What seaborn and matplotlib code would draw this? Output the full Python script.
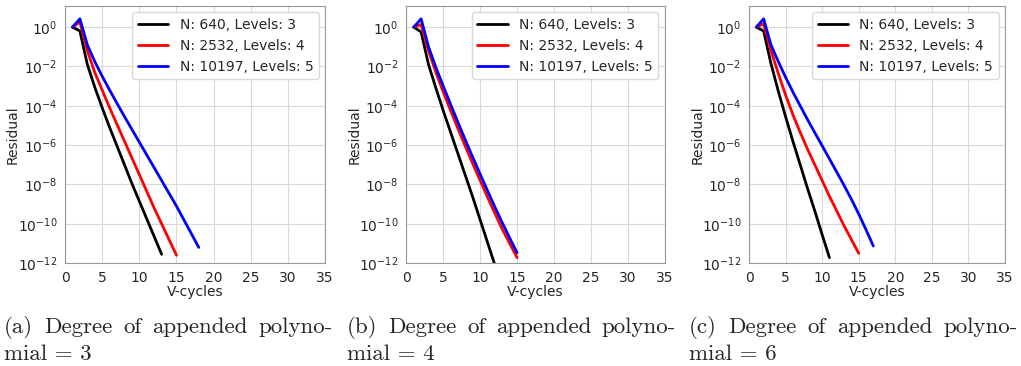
"""Multigrid convergence: residual vs V-cycles for three polynomial degrees."""

import matplotlib
matplotlib.use("Agg")
import matplotlib.pyplot as plt
import numpy as np
import pandas as pd
import seaborn as sns

# residuals, stored as log10 exponents (V-cycle 1, 2, ...)
series_labels = ["N: 640, Levels: 3", "N: 2532, Levels: 4", "N: 10197, Levels: 5"]
series_colors = ["black", "red", "blue"]

deg3_n640 = [0, -0.2, -1.9, -3.05, -4.1, -5.1, -6.05, -7.0, -7.95, -8.85,
             -9.75, -10.65, -11.55]
deg3_n2532 = [0, 0.25, -1.2, -2.3, -3.2, -4.1, -4.95, -5.8, -6.65, -7.5,
              -8.35, -9.2, -10.0, -10.8, -11.6]
deg3_n10197 = [0, 0.42, -0.9, -1.75, -2.5, -3.2, -3.88, -4.55, -5.2, -5.85,
               -6.5, -7.15, -7.8, -8.45, -9.1, -9.8, -10.5, -11.2]

deg4_n640 = [0, -0.25, -1.9, -3.1, -4.25, -5.35, -6.45, -7.55, -8.65, -9.8,
             -10.95, -12.1]
deg4_n2532 = [0, 0.13, -1.2, -2.3, -3.3, -4.25, -5.17, -6.07, -6.95, -7.8,
              -8.65, -9.47, -10.28, -11.0, -11.72]
deg4_n10197 = [0, 0.42, -1.0, -2.05, -3.0, -3.93, -4.85, -5.75, -6.62, -7.48,
               -8.32, -9.15, -9.95, -10.72, -11.47]

deg6_n640 = [0, -0.2, -1.85, -3.25, -4.55, -5.8, -7.0, -8.2, -9.35, -10.55,
             -11.72]
deg6_n2532 = [0, 0.17, -1.2, -2.35, -3.45, -4.45, -5.35, -6.2, -7.0, -7.8,
              -8.6, -9.35, -10.1, -10.8, -11.5]
deg6_n10197 = [0, 0.42, -0.9, -1.75, -2.55, -3.3, -4.0, -4.7, -5.37, -6.03,
               -6.7, -7.37, -8.05, -8.75, -9.5, -10.3, -11.13]

panels = [
    ("(a)", 3, [deg3_n640, deg3_n2532, deg3_n10197]),
    ("(b)", 4, [deg4_n640, deg4_n2532, deg4_n10197]),
    ("(c)", 6, [deg6_n640, deg6_n2532, deg6_n10197]),
]

x_ticks = [0, 5, 10, 15, 20, 25, 30, 35]
y_ticks = [1e0, 1e-2, 1e-4, 1e-6, 1e-8, 1e-10, 1e-12]


def to_frame(series):
    rows = []
    for label, exps in zip(series_labels, series):
        for i, e in enumerate(exps):
            rows.append({"V-cycles": i + 1, "Residual": 10.0 ** e, "run": label})
    return pd.DataFrame(rows)


def justified_line(fig, text, x0, x1, y, **kw):
    """Spread the words of one caption line across [x0, x1] (pixels)."""
    words = text.split()
    renderer = fig.canvas.get_renderer()
    arts = [fig.text(0, y / 366, w, ha="left", va="baseline", **kw) for w in words]
    widths = [a.get_window_extent(renderer).width for a in arts]
    gap = (x1 - x0 - sum(widths)) / max(len(words) - 1, 1)
    x = x0
    for a, w in zip(arts, widths):
        a.set_x(x / 1021)
        x += w + gap


sns.set_style("whitegrid", {"axes.edgecolor": "0.6", "grid.color": "0.85"})
plt.rcParams["font.family"] = ["DejaVu Sans"]

fig = plt.figure(figsize=(10.21, 3.66), dpi=100)
lefts = [0.0637, 0.398, 0.7336]
widths = [0.2547, 0.253, 0.2507]
bottom, height = 0.281, 0.703
cap_x = [4, 347, 689]
fs = 10
cap_kw = dict(family="cmr10", fontsize=16.5)

for (tag, deg, series), left, w, cx in zip(panels, lefts, widths, cap_x):
    ax = fig.add_axes([left, bottom, w, height])
    df = to_frame(series)
    sns.lineplot(data=df, x="V-cycles", y="Residual", hue="run",
                 hue_order=series_labels, palette=series_colors,
                 linewidth=2, ax=ax)
    ax.set_yscale("log")
    ax.set_xlim(0, 35)
    ax.set_ylim(1e-12, 12)
    ax.set_xticks(x_ticks)
    ax.set_yticks(y_ticks)
    ax.minorticks_off()
    ax.tick_params(labelsize=fs, pad=2)
    ax.set_xlabel("V-cycles", fontsize=fs, labelpad=0)
    ax.set_ylabel("Residual", fontsize=fs)
    ax.yaxis.set_label_coords(-0.173, 0.5)
    leg = ax.legend(loc="upper right", fontsize=fs, handlelength=2.2,
                    borderaxespad=0.45, labelspacing=0.5, framealpha=1)
    leg.get_frame().set_edgecolor("0.85")

    justified_line(fig, f"{tag} Degree of appended polyno-", cx, cx + 329,
                   366 - 333, **cap_kw)
    fig.text(cx / 1021, 1 - 360 / 366, f"mial = {deg}",
             ha="left", va="baseline", **cap_kw)

fig.savefig("out.png", dpi=100)
plt.close(fig)
